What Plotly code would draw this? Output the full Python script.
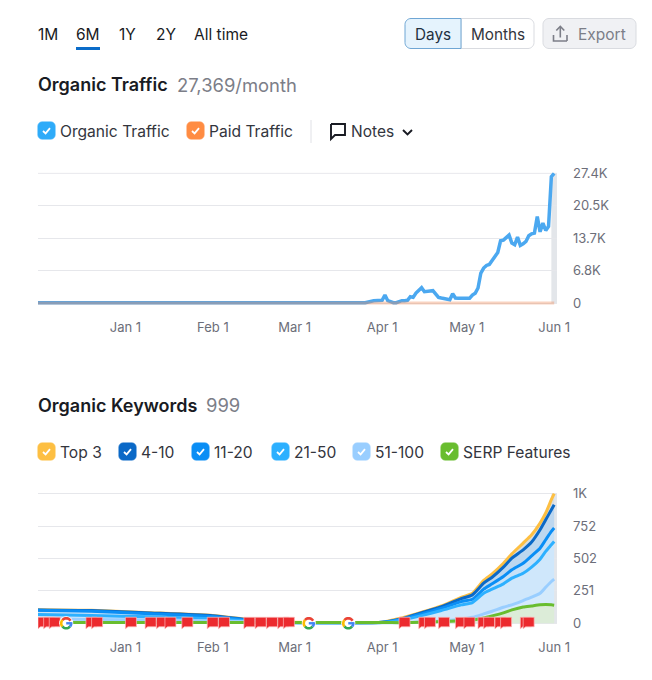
import math
import plotly.graph_objects as go

W, H = 652, 680
FONT = "Inter"
DARK, GRAY = "#191b23", "#6c6e79"

# ---------- data ----------
traffic_dates = ["2023-12-01", "2024-01-15", "2024-03-01", "2024-03-26", "2024-03-29", "2024-03-30", "2024-03-31"] + [
    f"2024-04-{d:02d}" for d in range(1, 31)] + [f"2024-05-{d:02d}" for d in range(1, 32)] + ["2024-06-01"]
organic_traffic = [60, 60, 60, 60, 490, 490, 490,
    560, 1680, 490, 280, 70, 70, 350, 490, 490, 560,
    1330, 1190, 2100, 2670, 3230, 2390, 2390, 2530, 2600, 1900,
    1190, 1050, 910, 840, 700, 1970, 1050, 980, 980, 980,
    980, 980, 1680, 2040, 3160, 6320, 7370, 7930, 8140, 9130,
    9830, 10670, 13130, 13270, 13760, 14320, 12640, 12290, 13900, 12150,
    12500, 12990, 14180, 14600, 14740, 18250, 15020, 16850, 15300, 16150,
    26680, 27369]
paid_traffic = [0] * len(traffic_dates)

kw_dates = ["2023-12-01", "2023-12-20", "2024-01-10", "2024-02-01", "2024-02-13", "2024-02-25", "2024-03-10", "2024-04-01",
            "2024-04-08", "2024-04-15", "2024-04-22", "2024-04-29", "2024-05-03", "2024-05-07", "2024-05-10", "2024-05-14",
            "2024-05-17", "2024-05-21", "2024-05-24", "2024-05-27", "2024-05-29", "2024-05-31", "2024-06-01"]
top3 =    [105, 100, 82, 60, 30, 9, 6, 8, 41, 85, 134, 200, 232, 330, 381, 463, 535, 618, 682, 772, 850, 953, 999]
pos4_10 = [103, 98, 80, 58, 28, 8, 5, 8, 36, 82, 129, 190, 219, 309, 355, 433, 502, 566, 626, 721, 798, 875, 914]
pos11_20 =[100, 93, 74, 52, 24, 7, 5, 7, 31, 72, 116, 167, 185, 263, 304, 360, 412, 463, 520, 579, 644, 708, 734]
pos21_50 =[68, 60, 50, 35, 18, 6, 5, 6, 26, 59, 98, 142, 160, 232, 263, 304, 348, 386, 433, 494, 554, 605, 631]
pos51_100=[35, 30, 25, 20, 12, 5, 5, 5, 5, 10, 18, 31, 46, 72, 93, 124, 142, 175, 201, 232, 278, 322, 340]
serp =    [6, 6, 6, 6, 6, 6, 6, 6, 5, 8, 13, 20, 26, 41, 57, 80, 103, 126, 134, 142, 144, 142, 139]

month_ticks = ["2024-01-01", "2024-02-01", "2024-03-01", "2024-04-01", "2024-05-01", "2024-06-01"]
month_labels = ["Jan 1", "Feb 1", "Mar 1", "Apr 1", "May 1", "Jun 1"]
traffic_ticks = [0, 6842, 13685, 20527, 27369]
traffic_labels = ["0", "6.8K", "13.7K", "20.5K", "27.4K"]
kw_ticks = [0, 250, 500, 749, 999]
kw_labels = ["0", "251", "502", "752", "1K"]

flag_dates = ["2023-12-01", "2023-12-03", "2023-12-05", "2023-12-18", "2023-12-20", "2024-01-01", "2024-01-08", "2024-01-12",
              "2024-01-15", "2024-01-21", "2024-01-30", "2024-02-03", "2024-02-12", "2024-02-16", "2024-02-20", "2024-02-24",
              "2024-02-26", "2024-04-07", "2024-04-14", "2024-04-16", "2024-04-21", "2024-04-27", "2024-04-30", "2024-05-05",
              "2024-05-07", "2024-05-11", "2024-05-13", "2024-05-20", "2024-05-21"]
google_dates = ["2023-12-11", "2024-03-06", "2024-03-20"]

# ---------- helpers ----------
def px(x): return x / W
def py(y): return 1 - y / H

def rrect(x0, y0, x1, y1, r, left=True, right=True):
    k = 0.45 * r
    X0, X1, Y0, Y1 = px(x0), px(x1), py(y0), py(y1)
    p = []
    if left:
        p.append(f"M {px(x0+r)} {Y0}")
    else:
        p.append(f"M {X0} {Y0}")
    if right:
        p += [f"L {px(x1-r)} {Y0}", f"C {px(x1-k)} {Y0} {X1} {py(y0+k)} {X1} {py(y0+r)}",
              f"L {X1} {py(y1-r)}", f"C {X1} {py(y1-k)} {px(x1-k)} {Y1} {px(x1-r)} {Y1}"]
    else:
        p += [f"L {X1} {Y0}", f"L {X1} {Y1}"]
    if left:
        p += [f"L {px(x0+r)} {Y1}", f"C {px(x0+k)} {Y1} {X0} {py(y1-k)} {X0} {py(y1-r)}",
              f"L {X0} {py(y0+r)}", f"C {X0} {py(y0+k)} {px(x0+k)} {Y0} {px(x0+r)} {Y0}"]
    else:
        p += [f"L {X0} {Y1}"]
    return " ".join(p) + " Z"

def poly(points, close=False):
    s = "M " + " L ".join(f"{px(a)} {py(b)}" for a, b in points)
    return s + (" Z" if close else "")

shapes, ann = [], []

def box(x0, y0, x1, y1, r, fill, line, width=1, **kw):
    shapes.append(dict(type="path", xref="paper", yref="paper", path=rrect(x0, y0, x1, y1, r, **kw),
                       fillcolor=fill, line=dict(color=line, width=width)))

def stroke(points, color, width=1.5, close=False):
    shapes.append(dict(type="path", xref="paper", yref="paper", path=poly(points, close),
                       line=dict(color=color, width=width)))

def text(x, y, s, size=15, color=DARK, weight=400, anchor="left"):
    ann.append(dict(xref="paper", yref="paper", x=px(x), y=py(y), text=s, showarrow=False, xanchor=anchor,
                    yanchor="middle", borderpad=0, borderwidth=0, font=dict(family=FONT, size=size, color=color, weight=weight)))

def checkbox(x, y, color, label, lx):
    box(x, y, x + 17, y + 17, 4, color, color)
    stroke([(x + 5, y + 9), (x + 7.6, y + 11.4), (x + 12, y + 6.2)], "white", 1.8)
    text(lx, y + 9.4, label, 15.6, "#33353d")

# ---------- page furniture ----------
for x, s in [(38, "1M"), (76, "6M"), (119, "1Y"), (156, "2Y"), (194, "All time")]:
    text(x, 34, s, 15.5)
shapes.append(dict(type="rect", xref="paper", yref="paper", x0=px(76), x1=px(100), y0=py(50), y1=py(47),
                   fillcolor="#0b6cc9", line=dict(width=0)))
box(461, 18.5, 534, 48.5, 6, "white", "#d9dbe0", left=False)
box(405, 18.5, 461, 48.5, 6, "#e5f3fd", "#6fa6d4", right=False)
box(543, 18.5, 636, 48.5, 6, "#f0f1f4", "#d9dbe0")
text(433, 34, "Days", 15.3, "#22303f", anchor="center")
text(497.5, 34, "Months", 15.3, "#33353d", anchor="center")
text(578, 34, "Export", 15.5, "#7c7e88")
stroke([(553.5, 35), (553.5, 41), (567, 41)], "#7c7e88", 1.6)
stroke([(567, 41), (567, 35)], "#7c7e88", 1.6)
stroke([(560.3, 37.5), (560.3, 27)], "#7c7e88", 1.6)
stroke([(556.3, 30.5), (560.3, 26.5), (564.3, 30.5)], "#7c7e88", 1.6)

text(38, 84.5, "Organic Traffic", 18, DARK, 600)
text(177, 84.5, "27,369/month", 18.4, "#7c7e88")
checkbox(38, 122, "#2eabf9", "Organic Traffic", 60)
checkbox(187, 122, "#ff8c42", "Paid Traffic", 209)
shapes.append(dict(type="line", xref="paper", yref="paper", x0=px(311), x1=px(311), y0=py(120), y1=py(143),
                   line=dict(color="#e0e1e6", width=1)))
stroke([(331, 124), (345, 124), (345, 135), (335, 135), (331, 139), (331, 124)], DARK, 1.9)
text(351, 131, "Notes", 15.5, "#33353d")
stroke([(403, 130), (407.5, 134.5), (412, 130)], DARK, 1.9)

text(38, 405, "Organic Keywords", 18, DARK, 600)
text(206, 405, "999", 18.4, "#7c7e88")
for x, c, s in [(38, "#fdbf42", "Top 3"), (119, "#0b69c7", "4-10"), (192, "#0a8ef5", "11-20"),
                (272, "#2db0ff", "21-50"), (353, "#99ceff", "51-100"), (441, "#69bd2f", "SERP Features")]:
    checkbox(x, 443, c, s, x + 22)

# ---------- traces ----------
fig = go.Figure()
fig.add_trace(go.Scatter(x=traffic_dates, y=organic_traffic, mode="lines", line=dict(color="#4ba8f0", width=3.5),
                         hoverinfo="skip", xaxis="x", yaxis="y", cliponaxis=False))
fig.add_trace(go.Scatter(x=traffic_dates, y=paid_traffic, mode="lines", line=dict(color="rgba(240,140,90,0.38)", width=3),
                         hoverinfo="skip", xaxis="x", yaxis="y"))

layers = [("SERP", serp, "#69bd2f", "#dcecd8"), ("51-100", pos51_100, "#99ceff", "#d5eafb"),
          ("21-50", pos21_50, "#2db0ff", "#cfe7fb"), ("11-20", pos11_20, "#0a8ef5", "#c6e1f8"),
          ("4-10", pos4_10, "#0b69c7", "#bdd7ef"), ("Top 3", top3, "#fdbf42", "#d8dde0")]
for i, (name, vals, col, fill) in enumerate(layers):
    fig.add_trace(go.Scatter(x=kw_dates, y=vals, mode="lines", name=name, line=dict(width=0, color=col, shape="spline", smoothing=0.6),
                             fill="tozeroy" if i == 0 else "tonexty", fillcolor=fill, hoverinfo="skip",
                             xaxis="x2", yaxis="y2"))
for name, vals, col, fill in reversed(layers):
    fig.add_trace(go.Scatter(x=kw_dates, y=vals, mode="lines", name=name, line=dict(width=3, color=col, shape="spline", smoothing=0.6),
                             hoverinfo="skip", xaxis="x2", yaxis="y2", cliponaxis=False))

# hover bands and the top rule of the traffic chart
for xr, yr, top in (("x", "y", 27369), ("x2", "y2", 999)):
    shapes.append(dict(type="rect", xref=xr, yref=yr, x0="2024-05-31", x1="2024-06-02", y0=0, y1=top,
                       fillcolor="#e3e6ea", line=dict(width=0), layer="below"))
shapes.append(dict(type="line", xref="x domain", yref="y", x0=0, x1=1, y0=27369, y1=27369,
                   line=dict(color="#e6e7eb", width=1), layer="below"))

# event markers on the keyword chart
for d in flag_dates:
    shapes.append(dict(type="path", xref="x2", yref="y2", xsizemode="pixel", ysizemode="pixel", xanchor=d, yanchor=0,
                       path="M 0 -5.5 L 0 6 L 11 6 L 11 -3.5 L 2.5 -3.5 L 0 -5.5 Z",
                       fillcolor="#ec2a2e", line=dict(color="#fbb9b9", width=0.7)))
for d in google_dates:
    arcs = [("#ea4335", 30, 140), ("#fbbc05", 140, 220), ("#34a853", 220, 320), ("#4285f4", 320, 375)]
    shapes.append(dict(type="circle", xref="x2", yref="y2", xsizemode="pixel", ysizemode="pixel", xanchor=d, yanchor=0,
                       x0=-7, x1=7, y0=-7, y1=7, fillcolor="white", line=dict(width=0)))
    for col, a0, a1 in arcs:
        pts = [(5 * math.cos(math.radians(a)), 5 * math.sin(math.radians(a))) for a in range(a0, a1 + 1, 10)]
        shapes.append(dict(type="path", xref="x2", yref="y2", xsizemode="pixel", ysizemode="pixel", xanchor=d, yanchor=0,
                           path="M " + " L ".join(f"{a:.2f} {b:.2f}" for a, b in pts), line=dict(color=col, width=2.6)))
    shapes.append(dict(type="line", xref="x2", yref="y2", xsizemode="pixel", ysizemode="pixel", xanchor=d, yanchor=0,
                       x0=0, x1=5.5, y0=0, y1=0, line=dict(color="#4285f4", width=2.4)))

xcommon = dict(range=["2023-12-01", "2024-06-02"], type="date", tickvals=month_ticks, ticktext=month_labels,
               showgrid=False, zeroline=False, showline=False, ticks="", automargin=False,
               domain=[px(38), px(557)], tickfont=dict(family=FONT, size=13, color=GRAY))
ycommon = dict(side="right", showgrid=True, gridcolor="#e6e7eb", gridwidth=1, zeroline=False, showline=False, automargin=False,
               ticks="", ticklabelstandoff=15, tickfont=dict(family=FONT, size=13, color=GRAY))

fig.update_layout(
    width=W, height=H, margin=dict(l=0, r=0, t=0, b=0, pad=0, autoexpand=False), showlegend=False,
    paper_bgcolor="white", plot_bgcolor="white", shapes=shapes, annotations=ann,
    xaxis=dict(xcommon, anchor="y", ticklabelstandoff=12),
    xaxis2=dict(xcommon, anchor="y2", ticklabelstandoff=6),
    yaxis=dict(ycommon, anchor="x", domain=[py(306), py(172.3)], range=[-633, 27580], tickvals=traffic_ticks, ticktext=traffic_labels),
    yaxis2=dict(ycommon, anchor="x2", domain=[py(632), py(492)], range=[-67.2, 1012], tickvals=kw_ticks, ticktext=kw_labels),
)
fig.write_html("out.html", config={"displayModeBar": False},
               post_script="document.documentElement.style.overflow='hidden';document.body.style.margin='0';"
                           "var g=document.getElementById('{plot_id}');g.style.position='fixed';g.style.left='0';g.style.top='0';")
